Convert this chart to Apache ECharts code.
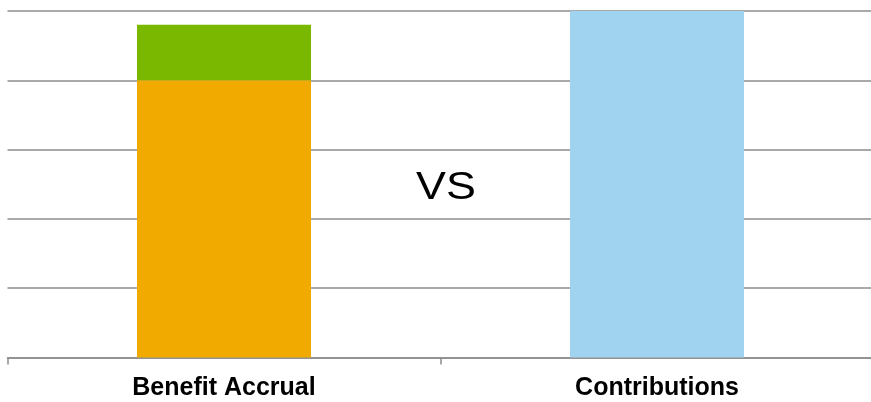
<!DOCTYPE html>
<html>
<head>
<meta charset="utf-8">
<style>
  html, body { margin: 0; padding: 0; background: #ffffff; }
  #chart { width: 871px; height: 402px; }
</style>
<script src="https://cdn.jsdelivr.net/npm/echarts@6/dist/echarts.min.js"></script>
</head>
<body>
<div id="chart"></div>
<script>
// Categories on the x axis
const categories = ['Benefit Accrual', 'Contributions'];
// Stacked parts of the benefit column, and the contributions column
const baseAccrual = [4.0, '-'];
const extraAccrual = [0.8, '-'];
const contributions = ['-', 5.0];
// Value axis range
const yMin = 0;
const yMax = 5;
const yStep = 1;

const chart = echarts.init(document.getElementById('chart'), null, { renderer: 'canvas' });

const gridColor = '#8c8c8c';

chart.setOption({
  animation: false,
  backgroundColor: '#ffffff',
  grid: {
    left: 7.5,
    width: 866,
    top: 11,
    bottom: 44.5,
    containLabel: false,
    outerBoundsMode: 'none'
  },
  xAxis: {
    type: 'category',
    data: categories,
    boundaryGap: true,
    axisLine: { show: true, lineStyle: { color: gridColor, width: 1.5 } },
    axisTick: { show: true, length: 7, lineStyle: { color: gridColor, width: 1.5 } },
    axisLabel: {
      color: '#000000',
      fontFamily: 'Liberation Sans, Arial, sans-serif',
      fontWeight: 'bold',
      fontSize: 25,
      margin: 18
    },
    splitLine: { show: false }
  },
  yAxis: {
    type: 'value',
    min: yMin,
    max: yMax,
    interval: yStep,
    axisLine: { show: false },
    axisTick: { show: false },
    axisLabel: { show: false },
    splitLine: { show: true, lineStyle: { color: gridColor, width: 1.5 } }
  },
  series: [
    {
      name: 'Base',
      type: 'bar',
      stack: 'total',
      barWidth: 174,
      data: baseAccrual,
      itemStyle: { color: '#f0aa00' }
    },
    {
      name: 'Extra',
      type: 'bar',
      stack: 'total',
      barWidth: 174,
      data: extraAccrual,
      itemStyle: { color: '#7ab800' }
    },
    {
      name: 'Contributions',
      type: 'bar',
      stack: 'total',
      barWidth: 174,
      data: contributions,
      itemStyle: { color: '#9fd3ef' }
    }
  ],
  graphic: [
    {
      type: 'text',
      x: 416,
      y: 208,
      scaleX: 1.15,
      style: {
        x: 0,
        y: 0,
        text: 'VS',
        fill: '#000000',
        fontFamily: 'Liberation Sans, Arial, sans-serif',
        fontSize: 39,
        verticalAlign: 'bottom'
      }
    }
  ]
});
</script>
</body>
</html>
